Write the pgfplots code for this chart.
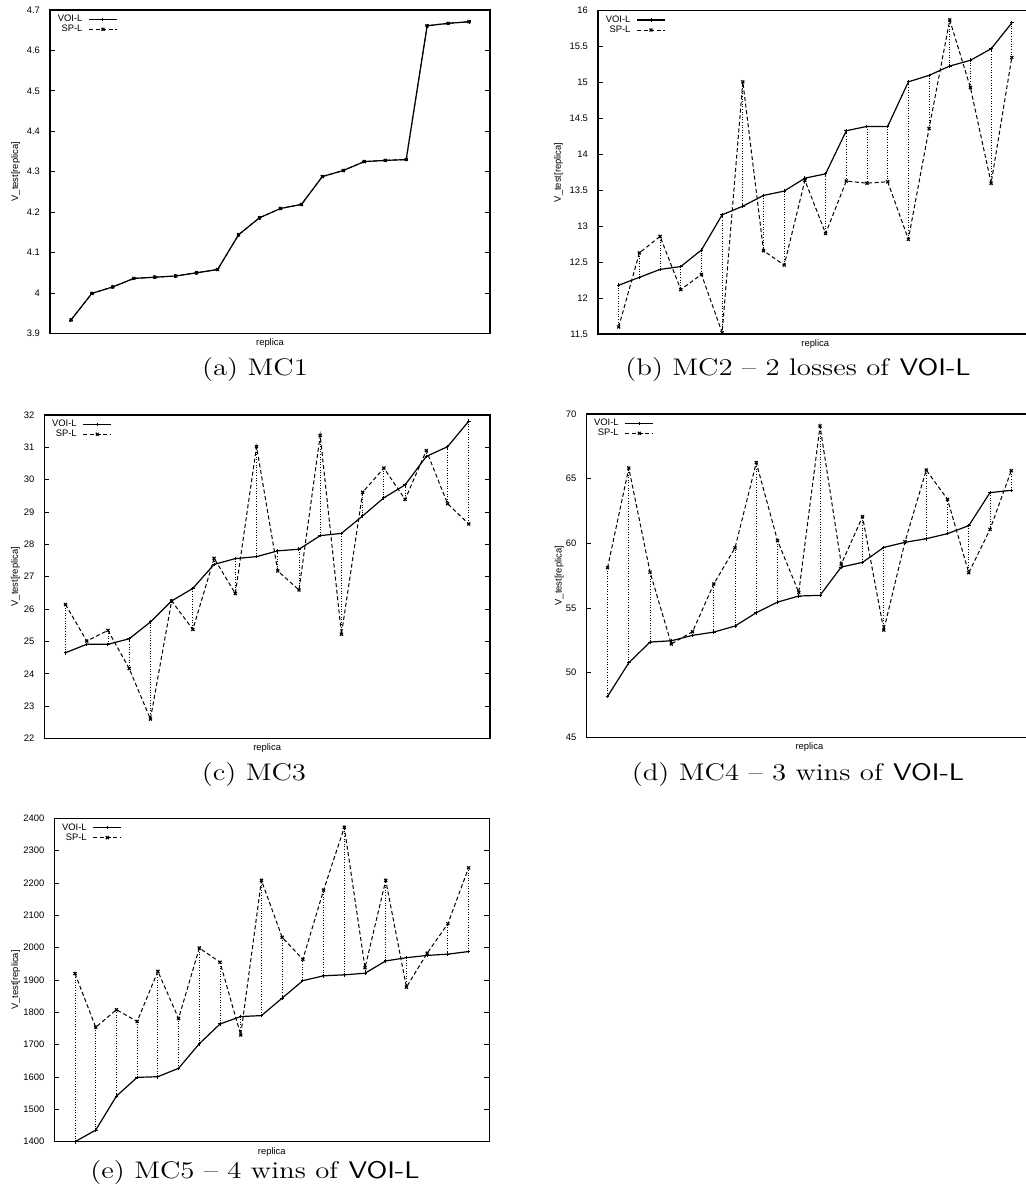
\documentclass[border=0pt]{standalone}
\usepackage{fontspec}
\usepackage{graphicx}
\usepackage{pgfplots}
\usepackage{pgfplotstable}
\pgfplotsset{compat=1.18}
\newfontfamily\gpfont{Liberation Sans}
\newcommand{\gpsize}{\gpfont\fontsize{4.7}{5.2}\selectfont}
% sub-captions, set wide
\newcommand{\subcap}[1]{\scalebox{1.2}[1]{\fontsize{12}{14}\selectfont #1}}

% replica, VOI-L, SP-L
\pgfplotstableread{
r voi sp
1 3.933 3.933
2 3.999 3.999
3 4.015 4.015
4 4.036 4.036
5 4.039 4.039
6 4.042 4.042
7 4.050 4.050
8 4.058 4.058
9 4.144 4.144
10 4.186 4.186
11 4.209 4.209
12 4.219 4.219
13 4.288 4.288
14 4.303 4.303
15 4.325 4.325
16 4.328 4.328
17 4.330 4.330
18 4.661 4.661
19 4.667 4.667
20 4.671 4.671
}\mcone
\pgfplotstableread{
r voi sp
1 12.18 11.60
2 12.29 12.63
3 12.40 12.86
4 12.44 12.12
5 12.67 12.33
6 13.16 11.52
7 13.28 15.01
8 13.43 12.66
9 13.49 12.46
10 13.67 13.64
11 13.73 12.90
12 14.33 13.63
13 14.39 13.60
14 14.39 13.62
15 15.01 12.82
16 15.10 14.36
17 15.23 15.87
18 15.31 14.93
19 15.47 13.60
20 15.83 15.35
}\mctwo
\pgfplotstableread{
r voi sp
1 24.65 26.14
2 24.91 25.01
3 24.91 25.34
4 25.08 24.16
5 25.60 22.60
6 26.25 26.25
7 26.64 25.37
8 27.38 27.57
9 27.56 26.48
10 27.62 31.02
11 27.80 27.18
12 27.85 26.59
13 28.27 31.37
14 28.34 25.22
15 28.88 29.61
16 29.44 30.36
17 29.84 29.39
18 30.72 30.90
19 31.02 29.26
20 31.81 28.63
}\mcthree
\pgfplotstableread{
r voi sp
1 48.17 58.12
2 50.77 65.82
3 52.37 57.78
4 52.47 52.22
5 52.89 53.17
6 53.14 56.86
7 53.61 59.66
8 54.64 66.24
9 55.46 60.21
10 55.93 56.21
11 55.98 69.07
12 58.17 58.40
13 58.53 62.06
14 59.69 53.30
15 60.08 60.13
16 60.36 65.67
17 60.75 63.40
18 61.37 57.73
19 63.92 61.08
20 64.10 65.62
}\mcfour
\pgfplotstableread{
r voi sp
1 1400 1920
2 1436 1754
3 1541 1808
4 1599 1772
5 1601 1927
6 1627 1781
7 1703 1999
8 1764 1955
9 1787 1730
10 1790 2208
11 1844 2032
12 1898 1964
13 1913 2178
14 1916 2372
15 1921 1938
16 1959 2208
17 1969 1878
18 1976 1983
19 1980 2074
20 1988 2247
}\mcfive

\pgfplotsset{
  gp/.style={
    scale only axis,
    height=161.7pt,
    xmin=0, xmax=21,
    xtick=\empty,
    ytick pos=both,
    tick align=inside,
    major tick length=2.5pt,
    axis line style={line width=0.7pt},
    every tick/.style={black, line width=0.45pt},
    scaled y ticks=false,
    /pgf/number format/assume math mode=true,
    /pgf/number format/set thousands separator={},
    tick label style={font=\gpsize},
    yticklabel style={xshift=-1.5pt},
    xlabel={replica},
    xlabel style={at={(axis description cs:0.5,0)}, anchor=center, yshift=-5pt, font=\gpsize},
    ylabel={V\_test[replica]},
    ylabel style={anchor=center, font=\gpsize},
    legend plot pos=right,
    legend cell align=right,
    legend style={draw=none, fill=none, inner sep=0pt, font=\gpsize,
      at={(axis description cs:0,1)}, anchor=north east, xshift=34pt, yshift=-2.3pt,
      nodes={inner sep=0pt, text height=3.4pt, text depth=0.9pt},
      column sep=3pt, row sep=0.7pt},
    legend image code/.code={
      \draw[mark repeat=2, mark phase=2, #1] plot coordinates {(0pt,0pt) (7pt,0pt) (14pt,0pt)};
    },
  },
  voi/.style={black, line width=0.6pt, mark=+, mark size=0.9pt, mark options={solid, line width=0.5pt}},
  spl/.style={black, line width=0.5pt, dash pattern=on 2pt off 1.3pt, mark=x, mark size=1.05pt, mark options={solid, line width=0.6pt}},
  link/.style={forget plot, draw=none, mark=none,
    error bars/.cd, y dir=plus, y explicit,
    error mark=none,
    error bar style={black, line width=0.45pt, dash pattern=on 0.5pt off 0.8pt}},
}

% one panel: connectors, VOI-L, SP-L
\newcommand{\panel}[1]{%
  \addplot[link] table[x=r, y=voi, y error plus expr=\thisrow{sp}-\thisrow{voi}] {#1};
  \addplot[voi] table[x=r, y=voi] {#1};
  \addlegendentry{VOI-L}
  \addplot[spl] table[x=r, y=sp] {#1};
  \addlegendentry{SP-L}
}

\begin{document}
\begin{tikzpicture}
\useasboundingbox (0pt,0pt) rectangle (513pt,-595pt);
\clip (0pt,0pt) rectangle (513pt,-595pt);

\begin{axis}[gp, at={(25pt,-5pt)}, anchor=north west, width=220pt,
  ymin=3.9, ymax=4.7, ytick distance=0.1,
  ylabel style={at={(axis description cs:-0.078,0.5)}}]
\panel{\mcone}
\end{axis}

\begin{axis}[gp, at={(299pt,-5.35pt)}, anchor=north west, width=217.25pt,
  ymin=11.5, ymax=16, ytick distance=0.5,
  ylabel style={at={(axis description cs:-0.091,0.5)}}]
\panel{\mctwo}
\end{axis}

\begin{axis}[gp, at={(22.15pt,-207.5pt)}, anchor=north west, width=222.85pt,
  ymin=22, ymax=32, ytick distance=1,
  ylabel style={at={(axis description cs:-0.065,0.5)}}]
\panel{\mcthree}
\end{axis}

\begin{axis}[gp, at={(293.15pt,-207pt)}, anchor=north west, width=223.1pt,
  ymin=45, ymax=70, ytick distance=5,
  ylabel style={at={(axis description cs:-0.061,0.5)}}]
\panel{\mcfour}
\end{axis}

\begin{axis}[gp, at={(27.15pt,-409.15pt)}, anchor=north west, width=217.5pt,
  ymin=1400, ymax=2400, ytick distance=100,
  ylabel style={at={(axis description cs:-0.089,0.5)}}]
\panel{\mcfive}
\end{axis}

\node[anchor=base] at (127.5pt,-187.5pt) {\subcap{(a) MC1}};
\node[anchor=base] at (399pt,-187.5pt) {\subcap{(b) MC2 -- 2 losses of \textsf{VOI-L}}};
\node[anchor=base] at (127pt,-390pt) {\subcap{(c) MC3}};
\node[anchor=base] at (399pt,-390pt) {\subcap{(d) MC4 -- 3 wins of \textsf{VOI-L}}};
\node[anchor=base] at (127.5pt,-589pt) {\subcap{(e) MC5 -- 4 wins of \textsf{VOI-L}}};
\end{tikzpicture}
\end{document}
